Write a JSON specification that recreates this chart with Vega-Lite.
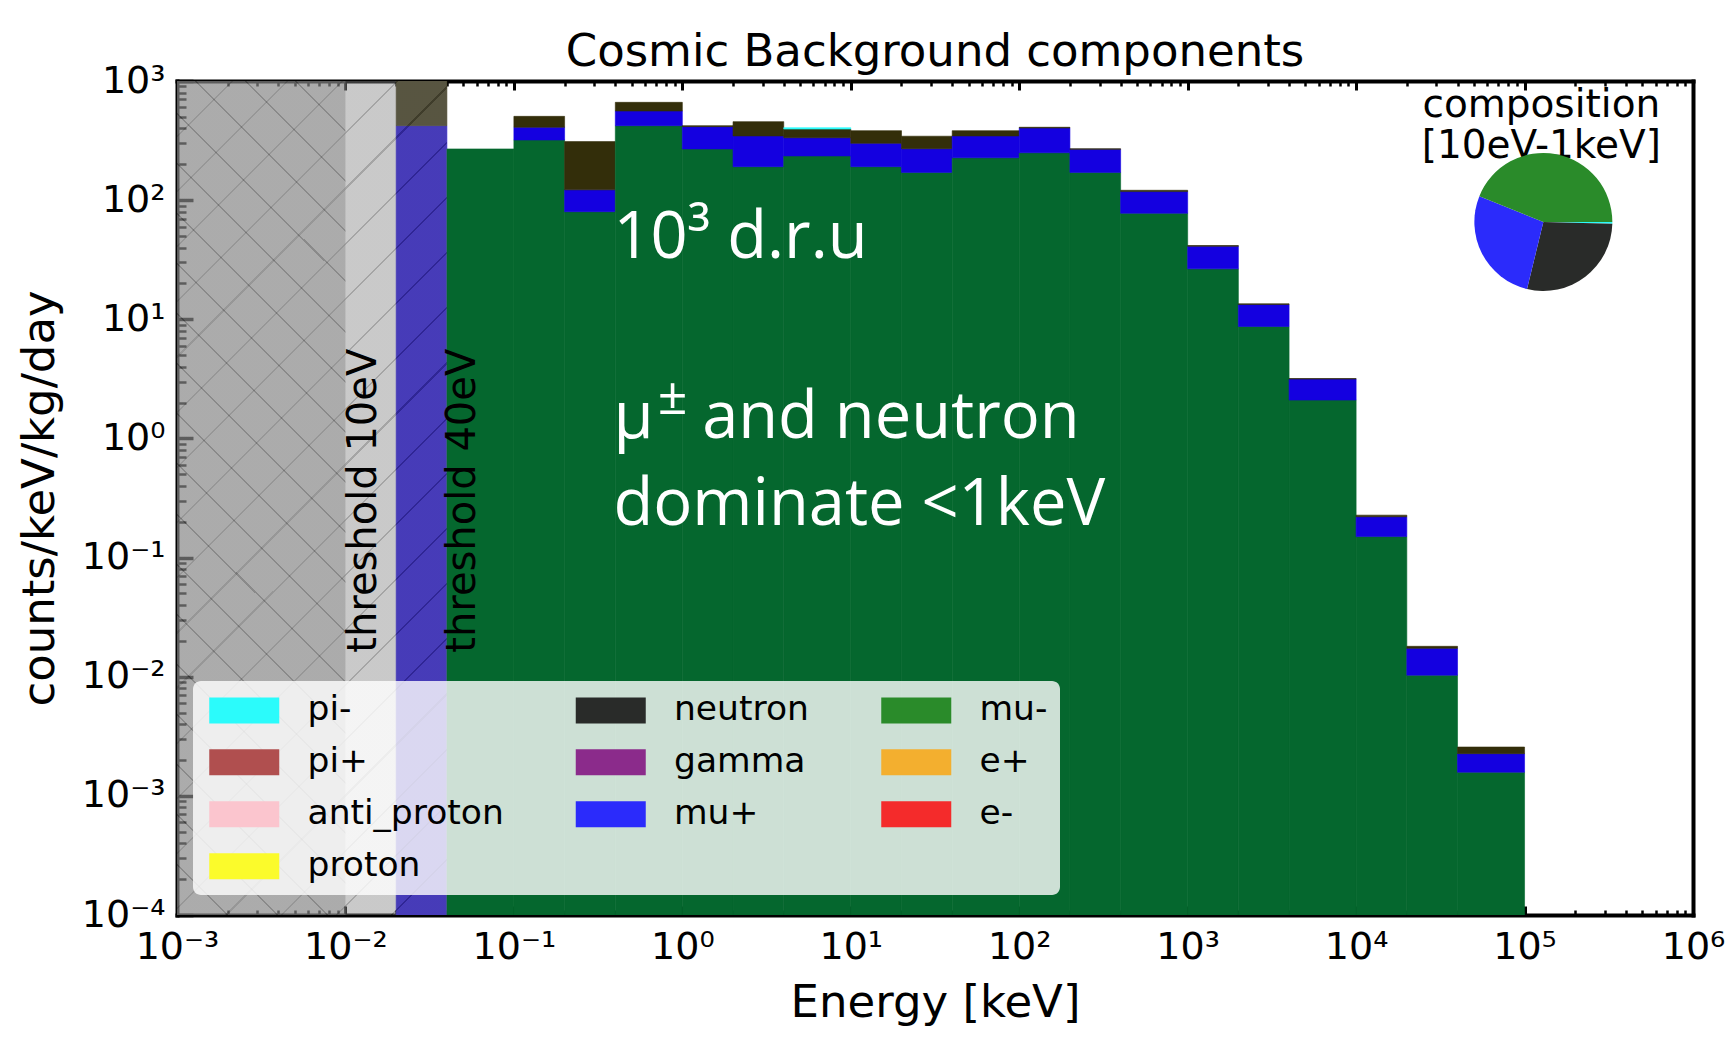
{
  "$schema": "https://vega.github.io/schema/vega-lite/v6.json",
  "width": 1516,
  "height": 834,
  "autosize": {"type": "none"},
  "padding": {"left": 177, "top": 81, "right": 42, "bottom": 122},
  "background": "white",
  "title": {"text": "Cosmic Background components", "font": "DejaVu Sans", "fontSize": 45, "fontWeight": "normal", "color": "black", "anchor": "middle", "frame": "group", "offset": 8, "dy": 21},
  "config": {
    "view": {"stroke": null},
    "axis": {"labelFont": "DejaVu Sans", "labelFontSize": 38, "labelColor": "black", "titleFont": "DejaVu Sans", "titleFontSize": 45, "titleFontWeight": "normal", "titleColor": "black", "tickColor": "black", "domainColor": "black", "grid": false, "labelFlush": false, "labelOverlap": false, "labelBound": false, "zindex": 1}
  },
  "datasets": {
    "bins": [
      {"lo": 0.02, "hi": 0.04, "particle": "mu+", "y0": 0.0001, "y1": 422},
      {"lo": 0.02, "hi": 0.04, "particle": "neutron", "y0": 422, "y1": 1000},
      {"lo": 0.04, "hi": 0.1, "particle": "mu-", "y0": 0.0001, "y1": 269},
      {"lo": 0.1, "hi": 0.2, "particle": "mu-", "y0": 0.0001, "y1": 320},
      {"lo": 0.1, "hi": 0.2, "particle": "mu+", "y0": 320, "y1": 409},
      {"lo": 0.1, "hi": 0.2, "particle": "neutron", "y0": 409, "y1": 505},
      {"lo": 0.2, "hi": 0.4, "particle": "mu-", "y0": 0.0001, "y1": 80},
      {"lo": 0.2, "hi": 0.4, "particle": "mu+", "y0": 80, "y1": 122},
      {"lo": 0.2, "hi": 0.4, "particle": "neutron", "y0": 122, "y1": 310},
      {"lo": 0.4, "hi": 1, "particle": "mu-", "y0": 0.0001, "y1": 422},
      {"lo": 0.4, "hi": 1, "particle": "mu+", "y0": 422, "y1": 560},
      {"lo": 0.4, "hi": 1, "particle": "neutron", "y0": 560, "y1": 662},
      {"lo": 1, "hi": 2, "particle": "mu-", "y0": 0.0001, "y1": 269},
      {"lo": 1, "hi": 2, "particle": "mu+", "y0": 269, "y1": 414},
      {"lo": 1, "hi": 2, "particle": "neutron", "y0": 414, "y1": 422},
      {"lo": 2, "hi": 4, "particle": "mu-", "y0": 0.0001, "y1": 191},
      {"lo": 2, "hi": 4, "particle": "mu+", "y0": 191, "y1": 346},
      {"lo": 2, "hi": 4, "particle": "neutron", "y0": 346, "y1": 456},
      {"lo": 4, "hi": 10, "particle": "mu-", "y0": 0.0001, "y1": 235},
      {"lo": 4, "hi": 10, "particle": "mu+", "y0": 235, "y1": 334},
      {"lo": 4, "hi": 10, "particle": "neutron", "y0": 334, "y1": 395},
      {"lo": 4, "hi": 10, "particle": "pi-", "y0": 395, "y1": 406},
      {"lo": 10, "hi": 20, "particle": "mu-", "y0": 0.0001, "y1": 191},
      {"lo": 10, "hi": 20, "particle": "mu+", "y0": 191, "y1": 300},
      {"lo": 10, "hi": 20, "particle": "neutron", "y0": 300, "y1": 383},
      {"lo": 20, "hi": 40, "particle": "mu-", "y0": 0.0001, "y1": 171},
      {"lo": 20, "hi": 40, "particle": "mu+", "y0": 171, "y1": 270},
      {"lo": 20, "hi": 40, "particle": "neutron", "y0": 270, "y1": 344},
      {"lo": 40, "hi": 100, "particle": "mu-", "y0": 0.0001, "y1": 227},
      {"lo": 40, "hi": 100, "particle": "mu+", "y0": 227, "y1": 346},
      {"lo": 40, "hi": 100, "particle": "neutron", "y0": 346, "y1": 383},
      {"lo": 100, "hi": 200, "particle": "mu-", "y0": 0.0001, "y1": 250},
      {"lo": 100, "hi": 200, "particle": "mu+", "y0": 250, "y1": 403},
      {"lo": 100, "hi": 200, "particle": "neutron", "y0": 403, "y1": 409},
      {"lo": 200, "hi": 400, "particle": "mu-", "y0": 0.0001, "y1": 171},
      {"lo": 200, "hi": 400, "particle": "mu+", "y0": 171, "y1": 267},
      {"lo": 200, "hi": 400, "particle": "neutron", "y0": 267, "y1": 270},
      {"lo": 400, "hi": 1000, "particle": "mu-", "y0": 0.0001, "y1": 77.6},
      {"lo": 400, "hi": 1000, "particle": "mu+", "y0": 77.6, "y1": 118},
      {"lo": 400, "hi": 1000, "particle": "neutron", "y0": 118, "y1": 121},
      {"lo": 1000, "hi": 2000, "particle": "mu-", "y0": 0.0001, "y1": 26.5},
      {"lo": 1000, "hi": 2000, "particle": "mu+", "y0": 26.5, "y1": 41},
      {"lo": 1000, "hi": 2000, "particle": "neutron", "y0": 41, "y1": 41.6},
      {"lo": 2000, "hi": 4000, "particle": "mu-", "y0": 0.0001, "y1": 8.7},
      {"lo": 2000, "hi": 4000, "particle": "mu+", "y0": 8.7, "y1": 13.3},
      {"lo": 2000, "hi": 4000, "particle": "neutron", "y0": 13.3, "y1": 13.5},
      {"lo": 4000, "hi": 10000, "particle": "mu-", "y0": 0.0001, "y1": 2.1},
      {"lo": 4000, "hi": 10000, "particle": "mu+", "y0": 2.1, "y1": 3.15},
      {"lo": 4000, "hi": 10000, "particle": "neutron", "y0": 3.15, "y1": 3.18},
      {"lo": 10000, "hi": 20000, "particle": "mu-", "y0": 0.0001, "y1": 0.15},
      {"lo": 10000, "hi": 20000, "particle": "mu+", "y0": 0.15, "y1": 0.22},
      {"lo": 10000, "hi": 20000, "particle": "neutron", "y0": 0.22, "y1": 0.227},
      {"lo": 20000, "hi": 40000, "particle": "mu-", "y0": 0.0001, "y1": 0.0103},
      {"lo": 20000, "hi": 40000, "particle": "mu+", "y0": 0.0103, "y1": 0.0173},
      {"lo": 20000, "hi": 40000, "particle": "neutron", "y0": 0.0173, "y1": 0.018},
      {"lo": 40000, "hi": 100000, "particle": "mu-", "y0": 0.0001, "y1": 0.00158},
      {"lo": 40000, "hi": 100000, "particle": "mu+", "y0": 0.00158, "y1": 0.00226},
      {"lo": 40000, "hi": 100000, "particle": "neutron", "y0": 0.00226, "y1": 0.00257}
    ],
    "pie": [
      {"particle": "pi-", "f0": 0, "f1": 0.004},
      {"particle": "neutron", "f0": 0.004, "f1": 0.288},
      {"particle": "mu+", "f0": 0.288, "f1": 0.561},
      {"particle": "mu-", "f0": 0.561, "f1": 1}
    ]
  },
  "layer": [
    {
      "data": {"name": "bins"},
      "mark": {"type": "rect", "clip": true, "strokeWidth": 0.6},
      "encoding": {
        "x": {"field": "lo", "type": "quantitative", "scale": {"type": "log", "domain": [0.001, 1000000], "nice": false},
          "axis": {"orient": "bottom", "values": [0.001, 0.01, 0.1, 1, 10, 100, 1000, 10000, 100000, 1000000],
            "labelExpr": "'10' + ['⁻⁴','⁻³','⁻²','⁻¹','⁰','¹','²','³','⁴','⁵','⁶'][round(log(datum.value)/LN10)+4]",
            "title": "Energy [keV]", "titlePadding": 14, "labelPadding": 22, "tickSize": -9, "tickWidth": 3,
            "domain": true, "domainWidth": 4, "domainCap": "square"}},
        "x2": {"field": "hi"},
        "y": {"field": "y0", "type": "quantitative", "scale": {"type": "log", "domain": [0.0001, 1000], "nice": false},
          "axis": {"orient": "left", "values": [0.0001, 0.001, 0.01, 0.1, 1, 10, 100, 1000],
            "labelExpr": "'10' + ['⁻⁴','⁻³','⁻²','⁻¹','⁰','¹','²','³','⁴','⁵','⁶'][round(log(datum.value)/LN10)+4]",
            "title": "counts/keV/kg/day", "titlePadding": 19, "labelPadding": 28, "tickSize": -16, "tickWidth": 3.5,
            "domain": true, "domainWidth": 4, "domainCap": "square"}},
        "y2": {"field": "y1"},
        "fill": {"field": "particle", "type": "nominal",
          "scale": {"domain": ["pi-", "pi+", "anti_proton", "proton", "neutron", "gamma", "mu+", "mu-", "e+", "e-"],
            "range": ["#2BFBFB", "#B04F4F", "#FBC5CE", "#FBFB2B", "#332E0A", "#8B2B8B", "#1400E0", "#05672E", "#F3AF2F", "#F42B2B"]},
          "legend": null},
        "stroke": {"field": "particle", "type": "nominal",
          "scale": {"domain": ["pi-", "pi+", "anti_proton", "proton", "neutron", "gamma", "mu+", "mu-", "e+", "e-"],
            "range": ["#2BFBFB", "#B04F4F", "#FBC5CE", "#FBFB2B", "#332E0A", "#8B2B8B", "#1400E0", "#05672E", "#F3AF2F", "#F42B2B"]},
          "legend": null}
      }
    },
    {
      "data": {"values": [{}]},
      "mark": {"type": "rect", "fill": {"gradient": "linear", "x1": 0, "y1": 0, "x2": 0.3876, "y2": 1.1981, "stops": [
        {"offset": 0, "color": "rgba(134,134,134,0.445)"},
        {"offset": 0.049, "color": "rgba(134,134,134,0.445)"}, {"offset": 0.049, "color": "rgba(75,75,75,0.5)"}, {"offset": 0.051, "color": "rgba(75,75,75,0.5)"}, {"offset": 0.051, "color": "rgba(134,134,134,0.445)"},
        {"offset": 0.099, "color": "rgba(134,134,134,0.445)"}, {"offset": 0.099, "color": "rgba(75,75,75,0.5)"}, {"offset": 0.101, "color": "rgba(75,75,75,0.5)"}, {"offset": 0.101, "color": "rgba(134,134,134,0.445)"},
        {"offset": 0.149, "color": "rgba(134,134,134,0.445)"}, {"offset": 0.149, "color": "rgba(75,75,75,0.5)"}, {"offset": 0.151, "color": "rgba(75,75,75,0.5)"}, {"offset": 0.151, "color": "rgba(134,134,134,0.445)"},
        {"offset": 0.199, "color": "rgba(134,134,134,0.445)"}, {"offset": 0.199, "color": "rgba(75,75,75,0.5)"}, {"offset": 0.201, "color": "rgba(75,75,75,0.5)"}, {"offset": 0.201, "color": "rgba(134,134,134,0.445)"},
        {"offset": 0.249, "color": "rgba(134,134,134,0.445)"}, {"offset": 0.249, "color": "rgba(75,75,75,0.5)"}, {"offset": 0.251, "color": "rgba(75,75,75,0.5)"}, {"offset": 0.251, "color": "rgba(134,134,134,0.445)"},
        {"offset": 0.299, "color": "rgba(134,134,134,0.445)"}, {"offset": 0.299, "color": "rgba(75,75,75,0.5)"}, {"offset": 0.301, "color": "rgba(75,75,75,0.5)"}, {"offset": 0.301, "color": "rgba(134,134,134,0.445)"},
        {"offset": 0.349, "color": "rgba(134,134,134,0.445)"}, {"offset": 0.349, "color": "rgba(75,75,75,0.5)"}, {"offset": 0.351, "color": "rgba(75,75,75,0.5)"}, {"offset": 0.351, "color": "rgba(134,134,134,0.445)"},
        {"offset": 0.399, "color": "rgba(134,134,134,0.445)"}, {"offset": 0.399, "color": "rgba(75,75,75,0.5)"}, {"offset": 0.401, "color": "rgba(75,75,75,0.5)"}, {"offset": 0.401, "color": "rgba(134,134,134,0.445)"},
        {"offset": 0.449, "color": "rgba(134,134,134,0.445)"}, {"offset": 0.449, "color": "rgba(75,75,75,0.5)"}, {"offset": 0.451, "color": "rgba(75,75,75,0.5)"}, {"offset": 0.451, "color": "rgba(134,134,134,0.445)"},
        {"offset": 0.499, "color": "rgba(134,134,134,0.445)"}, {"offset": 0.499, "color": "rgba(75,75,75,0.5)"}, {"offset": 0.501, "color": "rgba(75,75,75,0.5)"}, {"offset": 0.501, "color": "rgba(134,134,134,0.445)"},
        {"offset": 0.549, "color": "rgba(134,134,134,0.445)"}, {"offset": 0.549, "color": "rgba(75,75,75,0.5)"}, {"offset": 0.551, "color": "rgba(75,75,75,0.5)"}, {"offset": 0.551, "color": "rgba(134,134,134,0.445)"},
        {"offset": 0.599, "color": "rgba(134,134,134,0.445)"}, {"offset": 0.599, "color": "rgba(75,75,75,0.5)"}, {"offset": 0.601, "color": "rgba(75,75,75,0.5)"}, {"offset": 0.601, "color": "rgba(134,134,134,0.445)"},
        {"offset": 0.649, "color": "rgba(134,134,134,0.445)"}, {"offset": 0.649, "color": "rgba(75,75,75,0.5)"}, {"offset": 0.651, "color": "rgba(75,75,75,0.5)"}, {"offset": 0.651, "color": "rgba(134,134,134,0.445)"},
        {"offset": 0.699, "color": "rgba(134,134,134,0.445)"}, {"offset": 0.699, "color": "rgba(75,75,75,0.5)"}, {"offset": 0.701, "color": "rgba(75,75,75,0.5)"}, {"offset": 0.701, "color": "rgba(134,134,134,0.445)"},
        {"offset": 0.749, "color": "rgba(134,134,134,0.445)"}, {"offset": 0.749, "color": "rgba(75,75,75,0.5)"}, {"offset": 0.751, "color": "rgba(75,75,75,0.5)"}, {"offset": 0.751, "color": "rgba(134,134,134,0.445)"},
        {"offset": 0.799, "color": "rgba(134,134,134,0.445)"}, {"offset": 0.799, "color": "rgba(75,75,75,0.5)"}, {"offset": 0.801, "color": "rgba(75,75,75,0.5)"}, {"offset": 0.801, "color": "rgba(134,134,134,0.445)"},
        {"offset": 0.849, "color": "rgba(134,134,134,0.445)"}, {"offset": 0.849, "color": "rgba(75,75,75,0.5)"}, {"offset": 0.851, "color": "rgba(75,75,75,0.5)"}, {"offset": 0.851, "color": "rgba(134,134,134,0.445)"},
        {"offset": 0.899, "color": "rgba(134,134,134,0.445)"}, {"offset": 0.899, "color": "rgba(75,75,75,0.5)"}, {"offset": 0.901, "color": "rgba(75,75,75,0.5)"}, {"offset": 0.901, "color": "rgba(134,134,134,0.445)"},
        {"offset": 0.949, "color": "rgba(134,134,134,0.445)"}, {"offset": 0.949, "color": "rgba(75,75,75,0.5)"}, {"offset": 0.951, "color": "rgba(75,75,75,0.5)"}, {"offset": 0.951, "color": "rgba(134,134,134,0.445)"},
        {"offset": 1, "color": "rgba(134,134,134,0.445)"}
      ]}},
      "encoding": {
        "x": {"datum": 0.001, "axis": {"orient": "bottom", "values": [0.002,0.003,0.004,0.005,0.006,0.007,0.008,0.009,0.02,0.03,0.04,0.05,0.06,0.07,0.08,0.09,0.2,0.3,0.4,0.5,0.6,0.7,0.8,0.9,2,3,4,5,6,7,8,9,20,30,40,50,60,70,80,90,200,300,400,500,600,700,800,900,2000,3000,4000,5000,6000,7000,8000,9000,20000,30000,40000,50000,60000,70000,80000,90000,200000,300000,400000,500000,600000,700000,800000,900000], "labels": false, "tickSize": -5, "tickWidth": 2.5, "domain": false, "title": null}},
        "x2": {"datum": 0.04},
        "y": {"datum": 0.0001, "axis": {"orient": "left", "values": [0.0002,0.0003,0.0004,0.0005,0.0006,0.0007,0.0008,0.0009,0.002,0.003,0.004,0.005,0.006,0.007,0.008,0.009,0.02,0.03,0.04,0.05,0.06,0.07,0.08,0.09,0.2,0.3,0.4,0.5,0.6,0.7,0.8,0.9,2,3,4,5,6,7,8,9,20,30,40,50,60,70,80,90,200,300,400,500,600,700,800,900], "labels": false, "tickSize": -9, "tickWidth": 2.5, "domain": false, "title": null}},
        "y2": {"datum": 1000}
      }
    },
    {
      "data": {"values": [{}]},
      "mark": {"type": "rect", "fill": {"gradient": "linear", "x1": 0, "y1": 1, "x2": 0.2332, "y2": -0.1549, "stops": [
        {"offset": 0, "color": "rgba(134,134,134,0.445)"},
        {"offset": 0.049, "color": "rgba(134,134,134,0.445)"}, {"offset": 0.049, "color": "rgba(75,75,75,0.5)"}, {"offset": 0.051, "color": "rgba(75,75,75,0.5)"}, {"offset": 0.051, "color": "rgba(134,134,134,0.445)"},
        {"offset": 0.099, "color": "rgba(134,134,134,0.445)"}, {"offset": 0.099, "color": "rgba(75,75,75,0.5)"}, {"offset": 0.101, "color": "rgba(75,75,75,0.5)"}, {"offset": 0.101, "color": "rgba(134,134,134,0.445)"},
        {"offset": 0.149, "color": "rgba(134,134,134,0.445)"}, {"offset": 0.149, "color": "rgba(75,75,75,0.5)"}, {"offset": 0.151, "color": "rgba(75,75,75,0.5)"}, {"offset": 0.151, "color": "rgba(134,134,134,0.445)"},
        {"offset": 0.199, "color": "rgba(134,134,134,0.445)"}, {"offset": 0.199, "color": "rgba(75,75,75,0.5)"}, {"offset": 0.201, "color": "rgba(75,75,75,0.5)"}, {"offset": 0.201, "color": "rgba(134,134,134,0.445)"},
        {"offset": 0.249, "color": "rgba(134,134,134,0.445)"}, {"offset": 0.249, "color": "rgba(75,75,75,0.5)"}, {"offset": 0.251, "color": "rgba(75,75,75,0.5)"}, {"offset": 0.251, "color": "rgba(134,134,134,0.445)"},
        {"offset": 0.299, "color": "rgba(134,134,134,0.445)"}, {"offset": 0.299, "color": "rgba(75,75,75,0.5)"}, {"offset": 0.301, "color": "rgba(75,75,75,0.5)"}, {"offset": 0.301, "color": "rgba(134,134,134,0.445)"},
        {"offset": 0.349, "color": "rgba(134,134,134,0.445)"}, {"offset": 0.349, "color": "rgba(75,75,75,0.5)"}, {"offset": 0.351, "color": "rgba(75,75,75,0.5)"}, {"offset": 0.351, "color": "rgba(134,134,134,0.445)"},
        {"offset": 0.399, "color": "rgba(134,134,134,0.445)"}, {"offset": 0.399, "color": "rgba(75,75,75,0.5)"}, {"offset": 0.401, "color": "rgba(75,75,75,0.5)"}, {"offset": 0.401, "color": "rgba(134,134,134,0.445)"},
        {"offset": 0.449, "color": "rgba(134,134,134,0.445)"}, {"offset": 0.449, "color": "rgba(75,75,75,0.5)"}, {"offset": 0.451, "color": "rgba(75,75,75,0.5)"}, {"offset": 0.451, "color": "rgba(134,134,134,0.445)"},
        {"offset": 0.499, "color": "rgba(134,134,134,0.445)"}, {"offset": 0.499, "color": "rgba(75,75,75,0.5)"}, {"offset": 0.501, "color": "rgba(75,75,75,0.5)"}, {"offset": 0.501, "color": "rgba(134,134,134,0.445)"},
        {"offset": 0.549, "color": "rgba(134,134,134,0.445)"}, {"offset": 0.549, "color": "rgba(75,75,75,0.5)"}, {"offset": 0.551, "color": "rgba(75,75,75,0.5)"}, {"offset": 0.551, "color": "rgba(134,134,134,0.445)"},
        {"offset": 0.599, "color": "rgba(134,134,134,0.445)"}, {"offset": 0.599, "color": "rgba(75,75,75,0.5)"}, {"offset": 0.601, "color": "rgba(75,75,75,0.5)"}, {"offset": 0.601, "color": "rgba(134,134,134,0.445)"},
        {"offset": 0.649, "color": "rgba(134,134,134,0.445)"}, {"offset": 0.649, "color": "rgba(75,75,75,0.5)"}, {"offset": 0.651, "color": "rgba(75,75,75,0.5)"}, {"offset": 0.651, "color": "rgba(134,134,134,0.445)"},
        {"offset": 0.699, "color": "rgba(134,134,134,0.445)"}, {"offset": 0.699, "color": "rgba(75,75,75,0.5)"}, {"offset": 0.701, "color": "rgba(75,75,75,0.5)"}, {"offset": 0.701, "color": "rgba(134,134,134,0.445)"},
        {"offset": 0.749, "color": "rgba(134,134,134,0.445)"}, {"offset": 0.749, "color": "rgba(75,75,75,0.5)"}, {"offset": 0.751, "color": "rgba(75,75,75,0.5)"}, {"offset": 0.751, "color": "rgba(134,134,134,0.445)"},
        {"offset": 0.799, "color": "rgba(134,134,134,0.445)"}, {"offset": 0.799, "color": "rgba(75,75,75,0.5)"}, {"offset": 0.801, "color": "rgba(75,75,75,0.5)"}, {"offset": 0.801, "color": "rgba(134,134,134,0.445)"},
        {"offset": 0.849, "color": "rgba(134,134,134,0.445)"}, {"offset": 0.849, "color": "rgba(75,75,75,0.5)"}, {"offset": 0.851, "color": "rgba(75,75,75,0.5)"}, {"offset": 0.851, "color": "rgba(134,134,134,0.445)"},
        {"offset": 0.899, "color": "rgba(134,134,134,0.445)"}, {"offset": 0.899, "color": "rgba(75,75,75,0.5)"}, {"offset": 0.901, "color": "rgba(75,75,75,0.5)"}, {"offset": 0.901, "color": "rgba(134,134,134,0.445)"},
        {"offset": 0.949, "color": "rgba(134,134,134,0.445)"}, {"offset": 0.949, "color": "rgba(75,75,75,0.5)"}, {"offset": 0.951, "color": "rgba(75,75,75,0.5)"}, {"offset": 0.951, "color": "rgba(134,134,134,0.445)"},
        {"offset": 1, "color": "rgba(134,134,134,0.445)"}
      ]}},
      "encoding": {
        "x": {"datum": 0.001, "axis": {"orient": "top", "values": [0.001, 0.01, 0.1, 1, 10, 100, 1000, 10000, 100000, 1000000], "labels": false, "tickSize": -9, "tickWidth": 3, "domain": true, "domainWidth": 4, "domainCap": "square", "title": null}},
        "x2": {"datum": 0.01},
        "y": {"datum": 0.0001, "axis": {"orient": "right", "ticks": false, "labels": false, "domain": true, "domainWidth": 4, "domainCap": "square", "title": null}},
        "y2": {"datum": 1000}
      }
    },
    {
      "data": {"values": [{}]},
      "mark": {"type": "text", "text": "threshold 10eV", "angle": 270, "align": "center", "baseline": "top", "font": "DejaVu Sans", "fontSize": 40, "color": "black"},
      "encoding": {
        "x": {"datum": 0.0098, "axis": {"orient": "top", "values": [0.002,0.003,0.004,0.005,0.006,0.007,0.008,0.009,0.02,0.03,0.04,0.05,0.06,0.07,0.08,0.09,0.2,0.3,0.4,0.5,0.6,0.7,0.8,0.9,2,3,4,5,6,7,8,9,20,30,40,50,60,70,80,90,200,300,400,500,600,700,800,900,2000,3000,4000,5000,6000,7000,8000,9000,20000,30000,40000,50000,60000,70000,80000,90000,200000,300000,400000,500000,600000,700000,800000,900000], "labels": false, "tickSize": -5, "tickWidth": 2.5, "domain": false, "title": null}},
        "y": {"datum": 0.3, "axis": null}
      }
    },
    {
      "data": {"values": [{}]},
      "mark": {"type": "text", "text": "threshold 40eV", "angle": 270, "align": "center", "baseline": "top", "font": "DejaVu Sans", "fontSize": 40, "color": "black"},
      "encoding": {
        "x": {"datum": 0.0378, "axis": null},
        "y": {"datum": 0.3, "axis": null}
      }
    },
    {
      "data": {"values": [{}]},
      "mark": {"type": "text", "text": "10³ d.r.u", "align": "left", "baseline": "alphabetic", "font": "Open Sans", "fontSize": 65, "color": "white"},
      "encoding": {
        "x": {"datum": 0.39, "axis": null},
        "y": {"datum": 32.56, "axis": null}
      }
    },
    {
      "data": {"values": [{}]},
      "mark": {"type": "text", "text": "μ", "align": "left", "baseline": "alphabetic", "font": "Open Sans", "fontSize": 65, "color": "white"},
      "encoding": {
        "x": {"datum": 0.39, "axis": null},
        "y": {"datum": 1.006, "axis": null}
      }
    },
    {
      "data": {"values": [{}]},
      "mark": {"type": "text", "text": "±", "align": "left", "baseline": "alphabetic", "font": "Open Sans", "fontSize": 52, "color": "white"},
      "encoding": {
        "x": {"datum": 0.715, "axis": null},
        "y": {"datum": 1.6, "axis": null}
      }
    },
    {
      "data": {"values": [{}]},
      "mark": {"type": "text", "text": "and neutron", "align": "left", "baseline": "alphabetic", "font": "Open Sans", "fontSize": 65, "color": "white"},
      "encoding": {
        "x": {"datum": 1.311, "axis": null},
        "y": {"datum": 1.006, "axis": null}
      }
    },
    {
      "data": {"values": [{}]},
      "mark": {"type": "text", "text": "dominate <1keV", "align": "left", "baseline": "alphabetic", "font": "Open Sans", "fontSize": 65, "color": "white"},
      "encoding": {
        "x": {"datum": 0.39, "axis": null},
        "y": {"datum": 0.188, "axis": null}
      }
    },
    {
      "data": {"values": [{}]},
      "mark": {"type": "text", "text": ["composition", "[10eV-1keV]"], "lineHeight": 41, "align": "center", "baseline": "alphabetic", "font": "DejaVu Sans", "fontSize": 39, "color": "black"},
      "encoding": {
        "x": {"datum": 125800, "axis": null},
        "y": {"datum": 496, "axis": null}
      }
    },
    {
      "data": {"name": "pie"},
      "mark": {"type": "arc", "outerRadius": 69},
      "encoding": {
        "x": {"datum": 129300, "axis": null},
        "y": {"datum": 65.6, "axis": null},
        "theta": {"field": "f0", "type": "quantitative", "stack": null, "scale": {"type": "linear", "domain": [0, 1], "range": [1.5708, 7.854]}},
        "theta2": {"field": "f1"},
        "color": {"field": "particle", "type": "nominal",
          "scale": {"domain": ["pi-", "pi+", "anti_proton", "e-", "neutron", "gamma", "mu+", "proton", "mu-", "e+"],
            "range": ["#2BFBFB", "#B04F4F", "#FBC5CE", "#F42B2B", "#292B29", "#8B2B8B", "#2B2BFB", "#FBFB2B", "#2A8B2A", "#F3AF2F"]},
          "legend": {"orient": "none", "legendX": 16, "legendY": 600, "columns": 3, "columnPadding": 67.5, "rowPadding": 17,
            "symbolType": "M-1,-1H4.385V1H-1Z", "symbolSize": 676, "symbolStrokeWidth": 0, "symbolOpacity": 1,
            "labelFont": "DejaVu Sans", "labelFontSize": 34.5, "labelColor": "black", "labelOffset": 68, "labelLimit": 400,
            "fillColor": "rgba(255,255,255,0.8)", "cornerRadius": 8, "padding": 12,
            "title": null, "zindex": 2}}
      }
    }
  ],
  "resolve": {"axis": {"x": "independent", "y": "independent"}}
}
